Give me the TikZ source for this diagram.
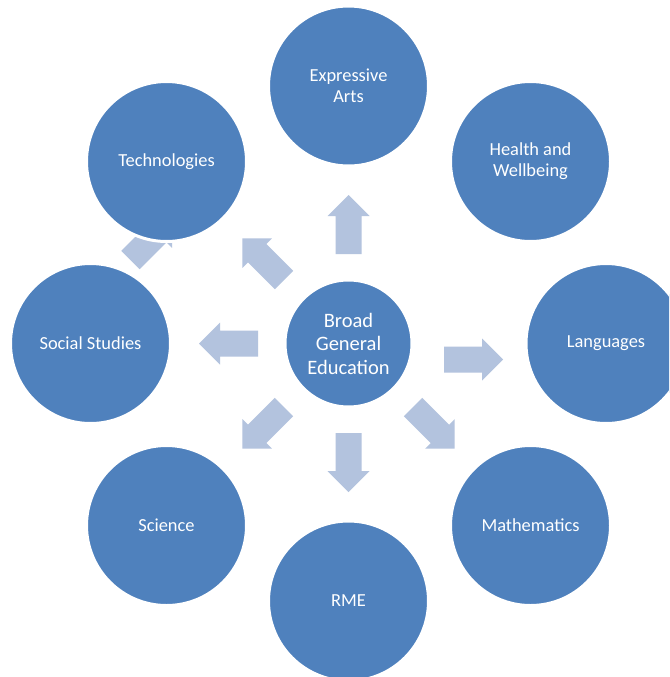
\documentclass[tikz,border=0pt]{standalone}
\usepackage{fontspec}
\setmainfont{Carlito}
\definecolor{circblue}{HTML}{4F81BD}
\definecolor{arrowblue}{HTML}{B3C3DE}
\begin{document}
\begin{tikzpicture}[x=1pt,y=1pt,
  outer/.style={circle, fill=circblue, draw=white, line width=3pt, minimum size=160pt,
    inner sep=0pt, text=white, align=center, font=\fontsize{18.4}{21}\selectfont},
  hub/.style={circle, fill=circblue, draw=white, line width=3pt, minimum size=127pt,
    inner sep=0pt, text=white, align=center, font=\fontsize{20.5}{23.5}\selectfont},
  blockarrow/.pic={\fill[arrowblue] (0,-13) -- (38,-13) -- (38,-21) -- (59,0) -- (38,21) -- (38,13) -- (0,13) -- cycle;}
]
\clip (0,0) rectangle (669,-677);
\fill[white] (0,0) rectangle (669,-677);
% arrows
\pic[rotate=90] at (348.5,-254) {blockarrow};
\pic[rotate=180] at (258,-343.5) {blockarrow};
\pic[rotate=-90] at (348.5,-433) {blockarrow};
\pic[rotate=-135] at (284,-407) {blockarrow};
\pic[rotate=-45] at (413,-407) {blockarrow};
\pic[rotate=135] at (284,-280) {blockarrow};
\pic[rotate=0] at (444,-359.5) {blockarrow};
\pic[rotate=45] at (130.5,-260) {blockarrow};
% circles
\node[hub] (bge) at (348.5,-343.5) {Broad\\General\\Education};
\node[outer] (ea) at (348.5,-86) {Expressive\\Arts};
\node[outer] (hw) at (530.5,-161.5) {Health and\\Wellbeing};
\node[outer] (lang) at (606,-343.5) {Languages};
\node[outer] (math) at (530.5,-525.5) {Mathematics};
\node[outer] (rme) at (348.5,-601) {RME};
\node[outer] (sci) at (166.5,-525.5) {Science};
\node[outer] (ss) at (90.5,-343.5) {Social Studies};
\node[outer] (tech) at (166.5,-161.5) {Technologies};
\end{tikzpicture}
\end{document}
